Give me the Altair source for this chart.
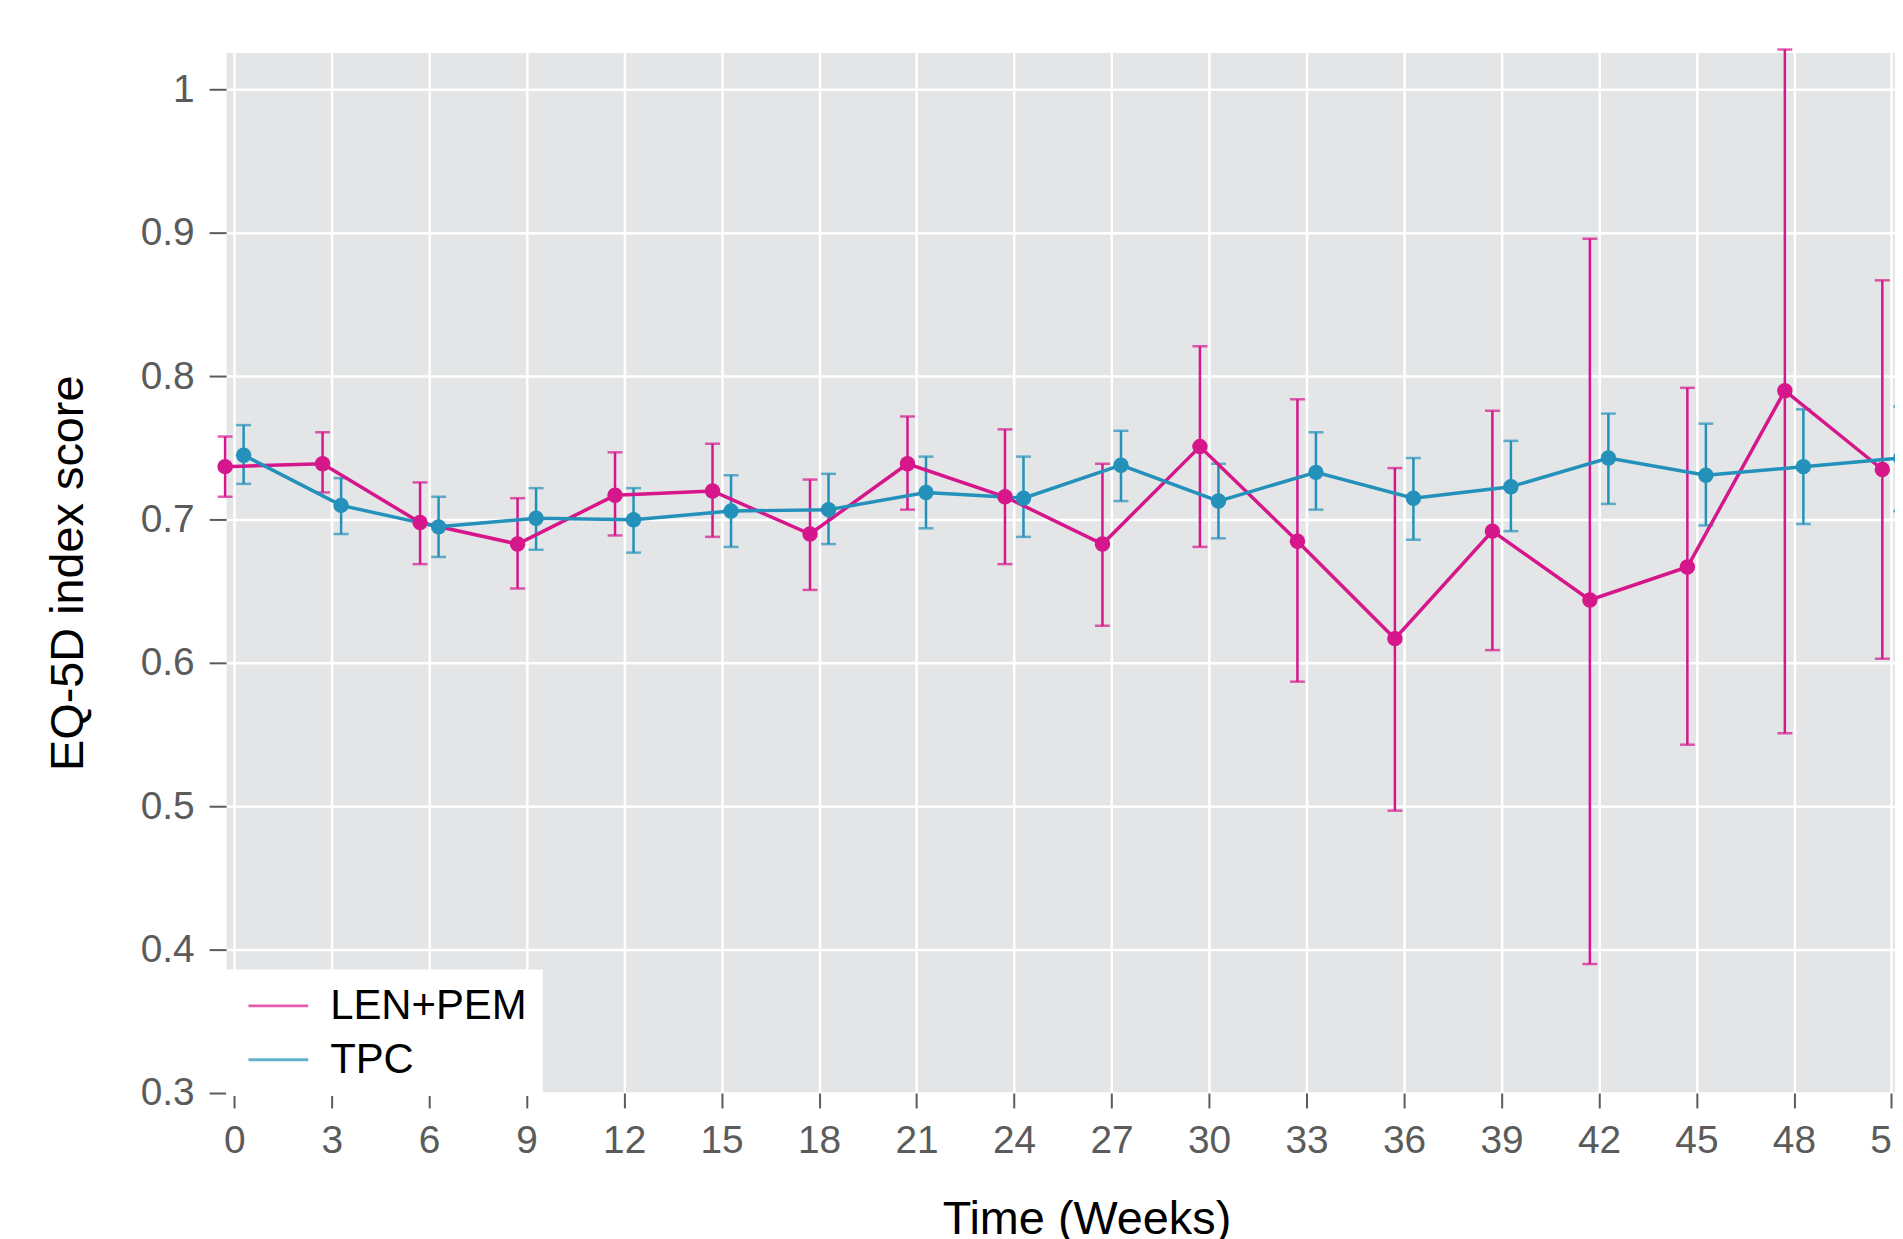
import altair as alt
import pandas as pd

# ---- data ----
weeks = [0, 3, 6, 9, 12, 15, 18, 21, 24, 27, 30, 33, 36, 39, 42, 45, 48, 51]

len_pem_mean = [0.737, 0.739, 0.698, 0.683, 0.717, 0.720, 0.690, 0.739, 0.716,
                0.683, 0.751, 0.685, 0.617, 0.692, 0.644, 0.667, 0.790, 0.735]
len_pem_hi = [0.758, 0.761, 0.726, 0.715, 0.747, 0.753, 0.728, 0.772, 0.763,
              0.739, 0.821, 0.784, 0.736, 0.776, 0.896, 0.792, 1.028, 0.867]
len_pem_lo = [0.716, 0.719, 0.669, 0.652, 0.689, 0.688, 0.651, 0.707, 0.669,
              0.626, 0.681, 0.587, 0.497, 0.609, 0.390, 0.543, 0.551, 0.603]

tpc_mean = [0.745, 0.710, 0.695, 0.701, 0.700, 0.706, 0.707, 0.719, 0.715,
            0.738, 0.713, 0.733, 0.715, 0.723, 0.743, 0.731, 0.737, 0.743]
tpc_hi = [0.766, 0.729, 0.716, 0.722, 0.722, 0.731, 0.732, 0.744, 0.744,
          0.762, 0.739, 0.761, 0.743, 0.755, 0.774, 0.767, 0.777, 0.779]
tpc_lo = [0.725, 0.690, 0.674, 0.679, 0.677, 0.681, 0.683, 0.694, 0.688,
          0.713, 0.687, 0.707, 0.686, 0.692, 0.711, 0.696, 0.697, 0.706]

arms = ["LEN+PEM", "TPC"]
y_ticks = [0.3, 0.4, 0.5, 0.6, 0.7, 0.8, 0.9, 1.0]

PINK = "#D6168B"
BLUE = "#2391BA"
FONT = "Liberation Sans"

rows = []
for arm, m, lo, hi in [(arms[0], len_pem_mean, len_pem_lo, len_pem_hi),
                       (arms[1], tpc_mean, tpc_lo, tpc_hi)]:
    for w, a, b, c in zip(weeks, m, lo, hi):
        rows.append({"arm": arm, "week": w, "mean": a, "lo": b, "hi": c})
df = pd.DataFrame(rows)

color_scale = alt.Scale(domain=arms, range=[PINK, BLUE])
x_scale = alt.Scale(domain=[-0.25, 51.11], nice=False, zero=False)
y_scale = alt.Scale(domain=[0.3, 1.026], nice=False, zero=False)

x_axis = alt.Axis(values=weeks, title="Time (Weeks)", tickSize=15, labelPadding=14,
                  labelFlush=False, labelOverlap=False, titleX=864, titleY=141,
                  titleBaseline="alphabetic")
y_axis = alt.Axis(values=y_ticks, format="~g", title="EQ-5D index score", tickSize=17,
                  labelPadding=15, titleX=-144, titleBaseline="alphabetic")

X = alt.X("xpos:Q", scale=x_scale, axis=x_axis)

base = alt.Chart(df).transform_calculate(
    xpos="datum.arm == 'LEN+PEM' ? datum.week - 0.28 : datum.week + 0.29"
)

legend = alt.Legend(
    orient="none", legendX=0, legendY=921, title=None, fillColor="white",
    padding=15.5, symbolType="M-2,0L2,0", symbolSize=900, symbolStrokeWidth=3,
    symbolOffset=16, labelOffset=31, labelLimit=500, labelFont=FONT,
    labelFontSize=42, labelColor="black", rowPadding=12, direction="vertical",
)
color = alt.Color("arm:N", scale=color_scale, legend=legend)

rules = base.mark_rule(strokeWidth=2.5).encode(
    x=X, y=alt.Y("lo:Q", scale=y_scale, axis=y_axis), y2="hi:Q", color=color
)
caps_lo = base.mark_tick(orient="horizontal", size=15, thickness=2.5).encode(
    x=X, y=alt.Y("lo:Q", scale=y_scale, axis=y_axis), color=color
)
caps_hi = base.mark_tick(orient="horizontal", size=15, thickness=2.5).encode(
    x=X, y=alt.Y("hi:Q", scale=y_scale, axis=y_axis), color=color
)
lines = base.mark_line(strokeWidth=3.5).encode(
    x=X, y=alt.Y("mean:Q", scale=y_scale, axis=y_axis), color=color
)
points = base.mark_circle(size=240, opacity=1).encode(
    x=X, y=alt.Y("mean:Q", scale=y_scale, axis=y_axis), color=color
)

chart = alt.layer(rules, caps_lo, caps_hi, lines, points).properties(
    width=1676, height=1045,
    padding={"left": 219, "top": 42, "right": 0, "bottom": 144},
    autosize=alt.AutoSizeParams(type="none"),
).configure_view(
    fill="#E4E5E7", stroke="transparent"
).configure_axis(
    grid=True, gridColor="white", gridWidth=2.5, domain=False,
    tickColor="#5B5B5B", tickWidth=2,
    labelColor="#5B5B5B", labelFont=FONT, labelFontSize=39,
    titleFont=FONT, titleFontSize=47, titleFontWeight="normal", titleColor="black",
)

chart.save("out.html", embed_options={"renderer": "svg", "actions": False})
